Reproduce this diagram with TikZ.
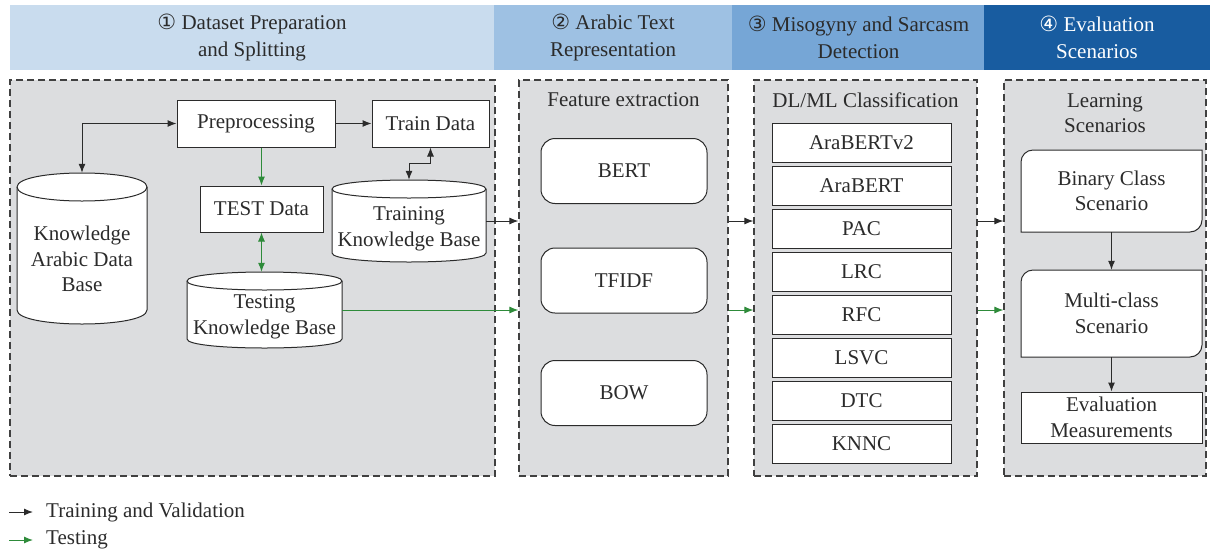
\documentclass[tikz,border=0pt]{standalone}
\usepackage{fontspec}
\setmainfont{Liberation Serif}
\newfontfamily\symfont{DejaVu Sans}
\usetikzlibrary{arrows.meta}
\definecolor{bandA}{HTML}{C9DCEE}
\definecolor{bandB}{HTML}{9EC1E3}
\definecolor{bandC}{HTML}{76A6D6}
\definecolor{bandD}{HTML}{185CA0}
\definecolor{panel}{HTML}{DCDDDF}
\definecolor{ink}{HTML}{2B2B2B}
\definecolor{testgreen}{HTML}{2E8B3A}
\newcommand\cylshape[6]{%
  \path[cylfill] (#2-#4/2,#3-#5/2+#6) -- (#2-#4/2,#3+#5/2-#6)
    .. controls (#2-#4/2,#3+#5/2+#6/3) and (#2+#4/2,#3+#5/2+#6/3) .. (#2+#4/2,#3+#5/2-#6)
    -- (#2+#4/2,#3-#5/2+#6)
    .. controls (#2+#4/2,#3-#5/2-#6/3) and (#2-#4/2,#3-#5/2-#6/3) .. cycle;
  \draw[cylline] (#2-#4/2,#3-#5/2+#6) .. controls (#2-#4/2,#3-#5/2+7*#6/3) and (#2+#4/2,#3-#5/2+7*#6/3) .. (#2+#4/2,#3-#5/2+#6);
  \node[holder, minimum width=#4, minimum height=#5] (#1) at (#2,#3) {};
}
\newcommand\leafshape[6]{%
  \path[cylfill] (#2-#4/2,#3+#5/2) -- (#2-#4/2,#3-#5/2+12)
    .. controls (#2-#4/2,#3-#5/2+5.4) and (#2-#4/2+5.4,#3-#5/2) .. (#2-#4/2+12,#3-#5/2)
    -- (#2+#4/2,#3-#5/2) -- (#2+#4/2,#3+#5/2-12)
    .. controls (#2+#4/2,#3+#5/2-5.4) and (#2+#4/2-5.4,#3+#5/2) .. (#2+#4/2-12,#3+#5/2)
    -- cycle;
  \node[holder, minimum width=#4, minimum height=#5] (#1) at (#2,#3) {#6};
}
\begin{document}
\begin{tikzpicture}[x=1pt,y=-1pt,
  >={Latex[length=9pt,width=7pt]},
  every node/.style={font=\fontsize{21}{25.5}\selectfont, text=ink, align=center, inner sep=0pt},
  band/.style={minimum height=65, font=\fontsize{21}{27}\selectfont},
  panelbox/.style={fill=panel, draw=ink!90, dash pattern=on 7pt off 4pt, line width=1.2pt},
  holder/.style={draw=none},
  plainbox/.style={draw=ink, fill=white, line width=1pt},
  rbox/.style={draw=ink, fill=white, line width=1pt, rounded corners=14pt},
  cylfill/.style={draw=ink, fill=white, line width=1pt},
  cylline/.style={draw=ink, line width=1pt},
  trainarrow/.style={draw=ink, line width=1pt},
  testarrow/.style={draw=testgreen, line width=1pt},
]
\useasboundingbox (0,0) rectangle (1215,552);

% header bands
\node[band, fill=bandA, minimum width=484] (h1) at (252,37.5) {{\symfont ①} Dataset Preparation\\and Splitting};
\node[band, fill=bandB, minimum width=238] (h2) at (613,37.5) {{\symfont ②} Arabic Text\\Representation};
\node[band, fill=bandC, minimum width=253] (h3) at (858.5,37.5) {{\symfont ③} Misogyny and Sarcasm\\Detection};
\node[band, fill=bandD, minimum width=226, text=white] (h4) at (1097,37.5) {{\symfont ④} Evaluation\\Scenarios};

% panels
\node[panelbox, minimum width=485, minimum height=396] (p1) at (252.5,278) {};
\node[panelbox, minimum width=209, minimum height=396] (p2) at (623.5,278) {};
\node[panelbox, minimum width=223, minimum height=396] (p3) at (865.5,278) {};
\node[panelbox, minimum width=202, minimum height=396] (p4) at (1105,278) {};

% stage 1
\node[plainbox, minimum width=158, minimum height=47] (prep) at (256,123.5) {Preprocessing};
\node[plainbox, minimum width=117, minimum height=47] (train) at (430.5,123.5) {Train Data};
\node[plainbox, minimum width=123, minimum height=46] (test) at (261.5,209) {TEST Data};
\cylshape{kdb}{82}{248.5}{130}{151}{14}
\node (kdbt) at (82,259) {Knowledge\\Arabic Data\\Base};
\cylshape{trkb}{409}{221}{154}{82}{9}
\node (trkbt) at (409,229) {Training\\Knowledge Base};
\cylshape{tskb}{264.5}{310}{155}{76}{9}
\node (tskbt) at (264.5,317) {Testing\\Knowledge Base};

\draw[trainarrow, <->] (kdb.north) |- (prep.west);
\draw[trainarrow, ->] (prep.east) -- (train.west);
\draw[trainarrow, <->] (trkb.north) -- ++(0,-16) -| (train.south);
\draw[testarrow, ->] (test.north |- prep.south) -- (test.north);
\draw[testarrow, <->] (test.south) -- (test.south |- tskb.north);
\draw[trainarrow, ->] (trkb.east) -- (trkb.east -| p2.west);
\draw[testarrow, ->] (tskb.east) -- (tskb.east -| p2.west);

% stage 2
\node (p2t) at (623.5,100) {Feature extraction};
\node[rbox, minimum width=166, minimum height=65] (bert) at (624,171) {BERT};
\node[rbox, minimum width=166, minimum height=65] (tfidf) at (624,280.5) {TFIDF};
\node[rbox, minimum width=166, minimum height=65] (bow) at (624,393) {BOW};
\draw[trainarrow, ->] (p2.east |- trkb.east) -- (p3.west |- trkb.east);
\draw[testarrow, ->] (p2.east |- tskb.east) -- (p3.west |- tskb.east);

% stage 3
\node (p3t) at (865.5,100) {DL/ML Classification};
\foreach \t [count=\i] in {AraBERTv2,AraBERT,PAC,LRC,RFC,LSVC,DTC,KNNC}
  \node[plainbox, minimum width=179, minimum height=39] (c\i) at (861.5,{142.5+43*(\i-1)}) {\t};
\draw[trainarrow, ->] (p3.east |- trkb.east) -- (p4.west |- trkb.east);
\draw[testarrow, ->] (p3.east |- tskb.east) -- (p4.west |- tskb.east);

% stage 4
\node (p4t) at (1105,113) {Learning\\Scenarios};
\leafshape{bin}{1111.5}{191}{181}{82}{Binary Class\\Scenario}
\leafshape{multi}{1111.5}{313.5}{181}{87}{Multi-class\\Scenario}
\node[plainbox, minimum width=181, minimum height=51] (eval) at (1111.5,417.5) {Evaluation\\Measurements};
\draw[trainarrow, ->] (bin.south) -- (multi.north);
\draw[trainarrow, ->] (multi.south) -- (eval.north);

% legend
\coordinate (l1a) at (9,512);
\coordinate (l1b) at (33,512);
\coordinate (l2a) at (9,540);
\coordinate (l2b) at (33,540);
\draw[trainarrow, ->] (l1a) -- (l1b);
\draw[testarrow, ->] (l2a) -- (l2b);
\node[anchor=west] (l1t) at (46,512) {Training and Validation};
\node[anchor=west] (l2t) at (46,540) {Testing};
\end{tikzpicture}
\end{document}
